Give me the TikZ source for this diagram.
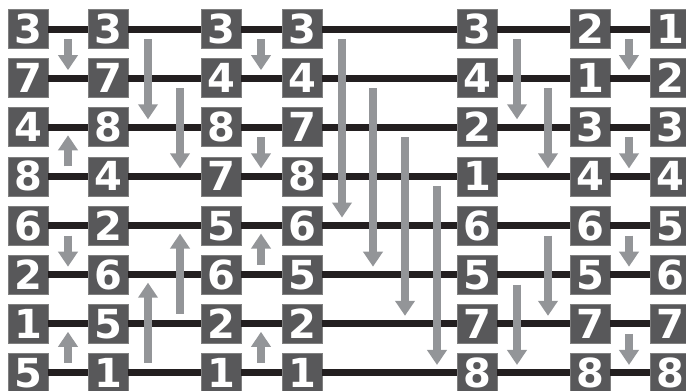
\documentclass[tikz,border=0pt]{standalone}
\usepackage{fontspec}
\setsansfont{DejaVu Sans}
\usetikzlibrary{arrows.meta}

\definecolor{boxgray}{HTML}{58585A}
\definecolor{wireblack}{HTML}{231F20}
\definecolor{cmpgray}{HTML}{939598}

\begin{document}
\begin{tikzpicture}[
        x=1pt, y=-1pt,
        numbox/.style={rectangle, fill=boxgray, draw=gray, line width=0.6pt, minimum width=40pt, minimum height=39pt, inner sep=0pt, text=white, font=\sffamily\bfseries\fontsize{40}{40}\selectfont, text height=29pt, text depth=0pt},
        wire/.style={line width=7pt, draw=wireblack},
        cmp/.style={line width=8pt, draw=cmpgray, -{Triangle[width=19pt, length=15pt]}}
    ]
    \useasboundingbox (0,0) rectangle (686,391);
%
    % Number boxes, column by column
    \foreach \c/\x/\vals in {1/28/{3,7,4,8,6,2,1,5}, 2/108/{3,7,8,4,2,6,5,1}, 3/221/{3,4,8,7,5,6,2,1}, 4/302/{3,4,7,8,6,5,2,1}, 5/477/{3,4,2,1,6,5,7,8}, 6/590/{2,1,3,4,6,5,7,8}, 7/670/{1,2,3,4,5,6,7,8}}{
        \foreach \v [count=\r] in \vals {
            \node[numbox] (n\c-\r) at (\x, {29+49.14*(\r-1)}) {\v};
        }
    }
%
    % Wires between the boxes
    \foreach \r in {1,...,8} {
        \foreach \a/\b in {1/2, 2/3, 3/4, 4/5, 5/6, 6/7} {
            \draw[wire] (n\a-\r.east) -- (n\b-\r.west);
        }
    }
%
    % Comparators (x / from row / to row)
    \foreach \x/\f/\t in {68/1/2, 68/4/3, 68/5/6, 68/8/7,
                          148/1/3, 148/8/6, 180/2/4, 180/7/5,
                          261/1/2, 261/3/4, 261/6/5, 261/8/7,
                          342/1/5, 373/2/6, 405/3/7, 437/4/8,
                          517/1/3, 517/6/8, 548/2/4, 548/5/7,
                          629/1/2, 629/3/4, 629/5/6, 629/7/8} {
        \pgfmathsetmacro\s{(\t>\f) ? 1 : -1}
        \coordinate (tail) at (\x, {29+49.14*(\f-1)+10*\s});
        \coordinate (head) at (\x, {29+49.14*(\t-1)-8*\s});
        \draw[cmp] (tail) -- (head);
    }
%
\end{tikzpicture}
\end{document}
